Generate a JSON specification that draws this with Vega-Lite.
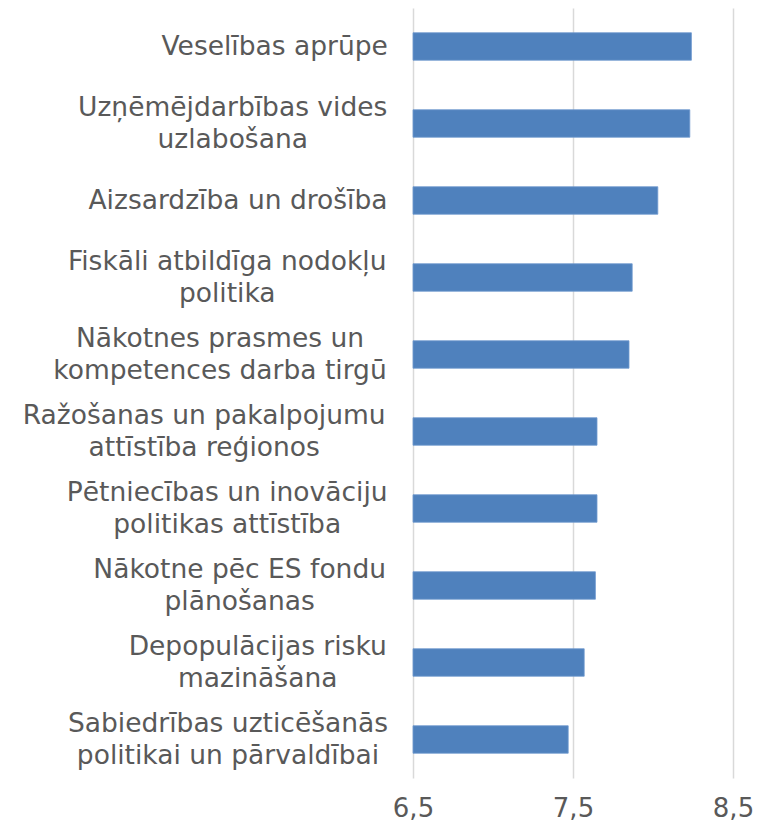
{
  "$schema": "https://vega.github.io/schema/vega-lite/v6.json",
  "width": 320,
  "height": 770,
  "autosize": {"type": "none"},
  "padding": {"left": 413, "top": 8, "right": 32, "bottom": 44},
  "background": "#ffffff",
  "config": {"view": {"stroke": null}, "font": "DejaVu Sans"},
  "data": {
    "values": [
      {"topic": "Veselības aprūpe", "score": 8.24},
      {"topic": "Uzņēmējdarbības vides\nuzlabošana", "score": 8.23},
      {"topic": "Aizsardzība un drošība", "score": 8.03},
      {"topic": "Fiskāli atbildīga nodokļu\npolitika", "score": 7.87},
      {"topic": "Nākotnes prasmes un\nkompetences darba tirgū", "score": 7.85},
      {"topic": "Ražošanas un pakalpojumu\nattīstība reģionos", "score": 7.65},
      {"topic": "Pētniecības un inovāciju\npolitikas attīstība", "score": 7.65},
      {"topic": "Nākotne pēc ES fondu\nplānošanas", "score": 7.64},
      {"topic": "Depopulācijas risku\nmazināšana", "score": 7.57},
      {"topic": "Sabiedrības uzticēšanās\npolitikai un pārvaldībai", "score": 7.47}
    ]
  },
  "mark": {"type": "bar", "color": "#4f81bd", "stroke": "#7099cf", "strokeWidth": 0.8},
  "encoding": {
    "y": {
      "field": "topic",
      "type": "nominal",
      "sort": null,
      "scale": {"paddingInner": 0.643, "paddingOuter": 0.3215},
      "axis": {
        "title": null,
        "domain": false,
        "ticks": false,
        "tickSize": 0,
        "labelAlign": "center",
        "labelBaseline": "middle",
        "labelFont": "DejaVu Sans",
        "labelFontSize": 26.5,
        "labelLineHeight": 32,
        "labelColor": "#595959",
        "labelLimit": 500,
        "labelExpr": "split(datum.label, '\\n')",
        "labelOffset": {
          "condition": {"test": "indexof(datum.value, '\\n') >= 0", "value": -16},
          "value": 0
        },
        "labelPadding": {
          "condition": [
            {"test": "indexof(datum.value,'Veselības')===0", "value": 138.8},
            {"test": "indexof(datum.value,'Uzņēmējdarbības')===0", "value": 180.8},
            {"test": "indexof(datum.value,'Aizsardzība')===0", "value": 175.5},
            {"test": "indexof(datum.value,'Fiskāli')===0", "value": 186.3},
            {"test": "indexof(datum.value,'Nākotnes')===0", "value": 193.5},
            {"test": "indexof(datum.value,'Ražošanas')===0", "value": 209.3},
            {"test": "indexof(datum.value,'Pētniecības')===0", "value": 186.3},
            {"test": "indexof(datum.value,'Nākotne pēc')===0", "value": 173.8},
            {"test": "indexof(datum.value,'Depopulācijas')===0", "value": 155.8}
          ],
          "value": 185.5
        }
      }
    },
    "x": {
      "field": "score",
      "type": "quantitative",
      "scale": {"domain": [6.5, 8.5], "nice": false, "zero": false},
      "axis": {
        "title": null,
        "values": [6.5, 7.5, 8.5],
        "domain": false,
        "ticks": false,
        "labelFlush": false,
        "labelPadding": 17,
        "labelFont": "DejaVu Sans",
        "labelFontSize": 26,
        "labelColor": "#595959",
        "labelExpr": "replace(format(datum.value, '.1f'), '.', ',')",
        "grid": true,
        "gridColor": "#d9d9d9",
        "gridWidth": 1.5
      }
    },
    "x2": {"datum": 6.5}
  }
}
